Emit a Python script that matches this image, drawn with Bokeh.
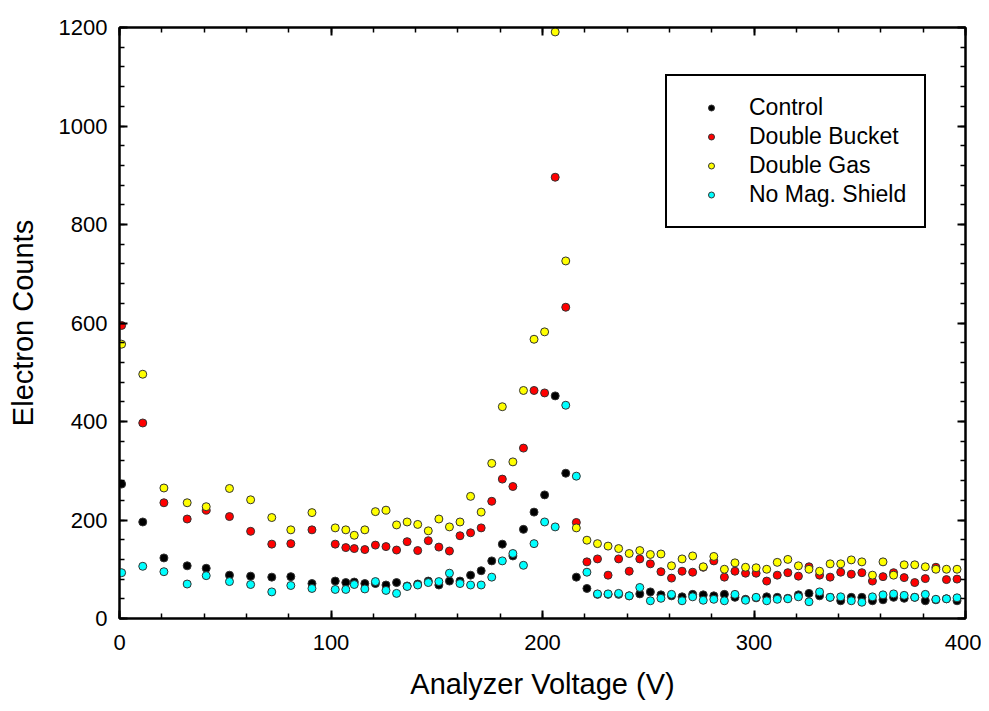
from bokeh.plotting import figure
from bokeh.models import LinearAxis, SingleIntervalTicker, Legend, LegendItem, Range1d
from bokeh.embed import file_html
from bokeh.resources import INLINE

# ---------------- data ----------------
voltage = [1, 11, 21, 32, 41, 52, 62, 72, 81, 91, 102, 107,
           111, 116, 121, 126, 131, 136, 141, 146, 151, 156,
           161, 166, 171, 176, 181, 186, 191, 196, 201, 206,
           211, 216, 221, 226, 231, 236, 241, 246, 251, 256,
           261, 266, 271, 276, 281, 286, 291, 296, 301, 306,
           311, 316, 321, 326, 331, 336, 341, 346, 351, 356,
           361, 366, 371, 376, 381, 386, 391, 396]

control = [273, 196, 123, 107, 102, 88, 86, 84, 85, 71, 76, 73,
           74, 71, 71, 68, 73, 66, 70, 76, 68, 76,
           76, 88, 97, 117, 151, 127, 181, 216, 251, 452,
           295, 84, 61, 49, 49, 49, 46, 50, 54, 48,
           46, 44, 49, 48, 46, 49, 43, 39, 42, 44,
           43, 41, 48, 51, 46, 43, 36, 43, 43, 36,
           38, 43, 41, 43, 36, 38, 40, 36]

double_bucket = [595, 397, 235, 202, 220, 207, 177, 151, 152, 180, 151, 144,
                 142, 140, 149, 146, 139, 156, 138, 158, 145, 137,
                 168, 174, 184, 238, 283, 268, 346, 463, 458, 896,
                 632, 195, 115, 121, 88, 121, 96, 121, 111, 95,
                 82, 96, 94, 104, 117, 84, 96, 92, 92, 76,
                 88, 93, 86, 105, 88, 84, 94, 90, 93, 76,
                 85, 93, 83, 73, 81, 104, 79, 80]

double_gas = [557, 496, 265, 235, 227, 264, 241, 205, 180, 215, 184, 180,
              169, 180, 217, 220, 190, 196, 191, 178, 202, 186,
              196, 248, 216, 315, 430, 318, 463, 567, 582, 1191,
              726, 184, 159, 152, 147, 142, 132, 138, 130, 131,
              107, 121, 127, 105, 126, 100, 113, 104, 103, 100,
              114, 120, 107, 100, 96, 111, 111, 119, 115, 88,
              115, 88, 109, 109, 105, 100, 100, 100]

no_mag_shield = [93, 106, 95, 70, 87, 75, 69, 54, 67, 61, 59, 59,
                 69, 60, 75, 57, 51, 65, 68, 73, 75, 92,
                 71, 68, 68, 84, 117, 132, 108, 152, 196, 186,
                 433, 289, 94, 50, 50, 51, 46, 63, 36, 41,
                 49, 36, 44, 37, 39, 36, 49, 37, 43, 36,
                 39, 40, 44, 34, 54, 43, 44, 36, 33, 44,
                 48, 50, 47, 43, 49, 39, 40, 42]

series_names = ["Control", "Double Bucket", "Double Gas", "No Mag. Shield"]
series_values = [control, double_bucket, double_gas, no_mag_shield]
series_colors = ["#000000", "#ff0000", "#ffff00", "#00ffff"]

x_label = "Analyzer Voltage (V)"
y_label = "Electron Counts"

# ---------------- figure ----------------
FONT = "Liberation Sans"

p = figure(width=981, height=703, output_backend="svg", toolbar_location=None,
           x_range=Range1d(0, 400), y_range=Range1d(0, 1200),
           min_border_left=119, min_border_right=16,
           min_border_top=27, min_border_bottom=85)
p.grid.visible = False
p.outline_line_color = "black"
p.outline_line_width = 2
p.outline_line_alpha = 1
p.background_fill_color = "white"
p.border_fill_color = "white"

xticker = SingleIntervalTicker(interval=100, num_minor_ticks=5)
yticker = SingleIntervalTicker(interval=200, num_minor_ticks=5)

bottom_axis = p.below[0]
left_axis = p.left[0]
bottom_axis.ticker = xticker
left_axis.ticker = yticker
bottom_axis.axis_label = x_label
left_axis.axis_label = y_label

top_axis = LinearAxis(ticker=xticker)
right_axis = LinearAxis(ticker=yticker)
p.add_layout(top_axis, "above")
p.add_layout(right_axis, "right")


def style_axis(ax, show_labels):
    ax.axis_line_color = "black"
    ax.axis_line_width = 2
    ax.major_tick_in = 8
    ax.major_tick_out = 0
    ax.minor_tick_in = 5
    ax.minor_tick_out = 0
    ax.major_tick_line_width = 2
    ax.minor_tick_line_width = 1.5
    ax.major_tick_line_color = "black"
    ax.minor_tick_line_color = "black"
    if show_labels:
        ax.major_label_text_font = FONT
        ax.major_label_text_font_size = "22px"
        ax.major_label_text_color = "black"
        ax.axis_label_text_font = FONT
        ax.axis_label_text_font_size = "29px"
        ax.axis_label_text_font_style = "normal"
        ax.axis_label_text_color = "black"
    else:
        ax.major_label_text_font_size = "1px"
        ax.major_label_text_color = None
        ax.major_label_standoff = 0


style_axis(bottom_axis, True)
style_axis(left_axis, True)
style_axis(top_axis, False)
style_axis(right_axis, False)

bottom_axis.major_label_standoff = 16
bottom_axis.axis_label_standoff = 15
left_axis.major_label_standoff = 12
left_axis.axis_label_standoff = 17

items = []
for name, vals, col in zip(series_names, series_values, series_colors):
    r = p.scatter(voltage, vals, marker="circle", size=8,
                  fill_color=col, line_color="#333333", line_width=1)
    items.append(LegendItem(label=name, renderers=[r]))

legend = Legend(items=items, location=(546, 390),
                border_line_color="black", border_line_width=2, border_line_alpha=1,
                padding=18, spacing=2, margin=0,
                label_height=25, glyph_height=15, glyph_width=52,
                label_standoff=12,
                label_text_font=FONT, label_text_font_size="23px",
                label_text_color="black",
                background_fill_color="white", background_fill_alpha=1)
p.add_layout(legend)

open("out.html", "w").write(file_html(p, INLINE))
